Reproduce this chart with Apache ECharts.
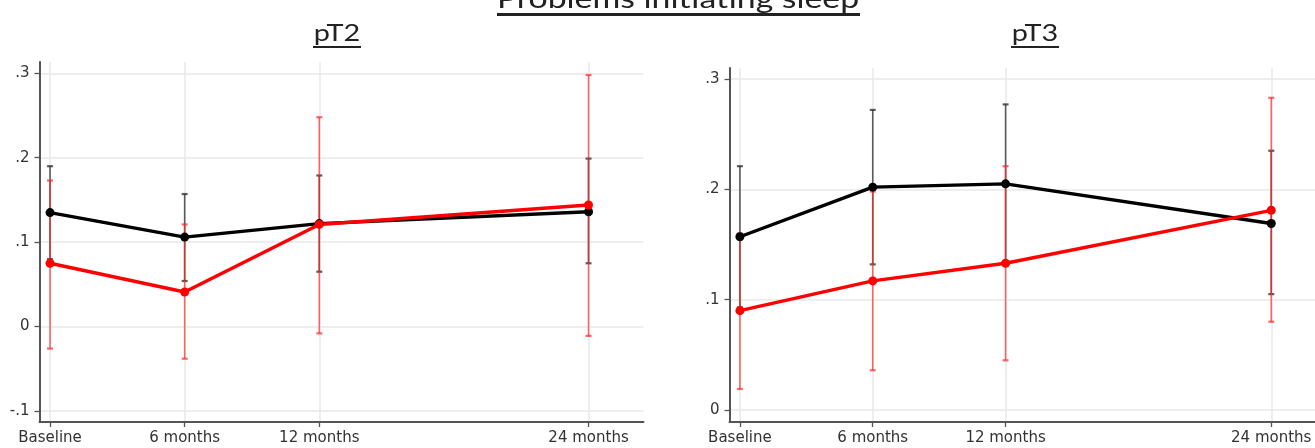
<!DOCTYPE html>
<html><head><meta charset="utf-8">
<script src="https://cdn.jsdelivr.net/npm/echarts@6/dist/echarts.min.js"></script>
<style>html,body{margin:0;padding:0;background:#fff}#c{width:1315px;height:448px}</style>
</head><body><div id="c"></div>
<script>
// ---- data ----
const mainTitle = 'Problems initiating sleep';
const panelTitles = ['pT2', 'pT3'];
const timepoints = [0, 6, 12, 24];
const timeLabels = ['Baseline', '6 months', '12 months', '24 months'];
const yTicksT2 = [-0.1, 0, 0.1, 0.2, 0.3];
const yTicksT3 = [0, 0.1, 0.2, 0.3];
const yTickText = ['-.1', '0', '.1', '.2', '.3'];
const yTickVals = [-0.1, 0, 0.1, 0.2, 0.3];

const pT2_black_mean = [0.135, 0.106, 0.122, 0.136];
const pT2_black_lo   = [0.080, 0.054, 0.065, 0.075];
const pT2_black_hi   = [0.190, 0.157, 0.179, 0.199];
const pT2_red_mean   = [0.075, 0.041, 0.121, 0.144];
const pT2_red_lo     = [-0.026, -0.038, -0.008, -0.011];
const pT2_red_hi     = [0.173, 0.121, 0.248, 0.298];

const pT3_black_mean = [0.157, 0.202, 0.205, 0.169];
const pT3_black_lo   = [0.093, 0.132, 0.133, 0.105];
const pT3_black_hi   = [0.221, 0.272, 0.277, 0.235];
const pT3_red_mean   = [0.090, 0.117, 0.133, 0.181];
const pT3_red_lo     = [0.019, 0.036, 0.045, 0.080];
const pT3_red_hi     = [0.160, 0.198, 0.221, 0.283];

// ---- helpers ----
const BLACK = '#000000', RED = '#ff0000';
const BLACK_CI = 'rgba(40,40,40,0.75)', RED_CI = 'rgba(255,40,40,0.7)';
const labelFont = '"DejaVu Sans", sans-serif';

function fmtY(v) {
  for (let i = 0; i < yTickVals.length; i++) if (Math.abs(v - yTickVals[i]) < 1e-9) return yTickText[i];
  return '';
}
function fmtX(v) {
  const i = timepoints.indexOf(v);
  return i >= 0 ? timeLabels[i] : '';
}
function pairs(xs, ys) { return xs.map((x, i) => [x, ys[i]]); }
function ci(xs, lo, hi) { return xs.map((x, i) => [x, lo[i], hi[i]]); }

function errRender(color) {
  return function (params, api) {
    const x = api.value(0), lo = api.value(1), hi = api.value(2);
    const a = api.coord([x, lo]), b = api.coord([x, hi]);
    const w = 3;
    const st = { stroke: color, lineWidth: 1.6 };
    return {
      type: 'group', children: [
        { type: 'line', shape: { x1: a[0], y1: a[1], x2: b[0], y2: b[1] }, style: st },
        { type: 'line', shape: { x1: a[0] - w, y1: a[1], x2: a[0] + w, y2: a[1] }, style: { stroke: color, lineWidth: 2.2 } },
        { type: 'line', shape: { x1: b[0] - w, y1: b[1], x2: b[0] + w, y2: b[1] }, style: { stroke: color, lineWidth: 2.2 } }
      ]
    };
  };
}

function xAxisCfg(gridIndex) {
  return {
    type: 'value', gridIndex, min: -0.47, max: 26.45,
    axisLine: { show: true, onZero: false, lineStyle: { color: '#555', width: 2 } },
    axisTick: { show: true, length: 5, lineStyle: { color: '#555', width: 1.3 }, customValues: timepoints },
    axisLabel: { customValues: timepoints, formatter: fmtX, color: '#333', fontSize: 15, fontFamily: labelFont, margin: 9 },
    splitLine: { show: true, lineStyle: { color: '#e8e8e8', width: 1.5 } }
  };
}
function yAxisCfg(gridIndex, min, max, ticks) {
  return {
    type: 'value', gridIndex, min, max,
    axisLine: { show: true, onZero: false, lineStyle: { color: '#555', width: 2 } },
    axisTick: { show: true, length: 5, lineStyle: { color: '#555', width: 1.3 }, customValues: ticks },
    axisLabel: { customValues: ticks, formatter: fmtY, color: '#333', fontSize: 15, fontFamily: labelFont, margin: 10 },
    splitLine: { show: true, lineStyle: { color: '#e8e8e8', width: 1.5 } }
  };
}
function lineSeries(idx, data, color) {
  return {
    type: 'line', xAxisIndex: idx, yAxisIndex: idx, data, color,
    symbol: 'circle', symbolSize: 9, showSymbol: true,
    lineStyle: { color, width: 3.4 }, itemStyle: { color }, z: 5, animation: false
  };
}
function ciSeries(idx, data, color) {
  return {
    type: 'custom', xAxisIndex: idx, yAxisIndex: idx, data,
    renderItem: errRender(color), encode: { x: 0, y: [1, 2] }, z: 3, animation: false
  };
}

const chart = echarts.init(document.getElementById('c'), null, { renderer: 'canvas' });
chart.setOption({
  backgroundColor: '#ffffff',
  animation: false,
  grid: [
    { left: 39.5, top: 62, width: 604, height: 360, outerBoundsMode: 'none', containLabel: false },
    { left: 729.5, top: 68, width: 596, height: 354, outerBoundsMode: 'none', containLabel: false }
  ],
  xAxis: [xAxisCfg(0), xAxisCfg(1)],
  yAxis: [yAxisCfg(0, -0.113, 0.3134, yTicksT2), yAxisCfg(1, -0.0109, 0.31, yTicksT3)],
  series: [
    ciSeries(0, ci(timepoints, pT2_black_lo, pT2_black_hi), BLACK_CI),
    ciSeries(0, ci(timepoints, pT2_red_lo, pT2_red_hi), RED_CI),
    lineSeries(0, pairs(timepoints, pT2_black_mean), BLACK),
    lineSeries(0, pairs(timepoints, pT2_red_mean), RED),
    ciSeries(1, ci(timepoints, pT3_black_lo, pT3_black_hi), BLACK_CI),
    ciSeries(1, ci(timepoints, pT3_red_lo, pT3_red_hi), RED_CI),
    lineSeries(1, pairs(timepoints, pT3_black_mean), BLACK),
    lineSeries(1, pairs(timepoints, pT3_red_mean), RED)
  ],
  graphic: [
    { type: 'text', x: 678, y: -13, scaleX: 1.3, style: { text: mainTitle, font: '26px Lato, sans-serif', fill: '#222', textAlign: 'center', textVerticalAlign: 'top' } },
    { type: 'line', shape: { x1: 497, y1: 14.5, x2: 860, y2: 14.5 }, style: { stroke: '#222', lineWidth: 3 } },
    { type: 'text', x: 337, y: 21, scaleX: 1.2, style: { text: panelTitles[0], font: '24px Lato, sans-serif', fill: '#222', textAlign: 'center', textVerticalAlign: 'top' } },
    { type: 'line', shape: { x1: 313, y1: 47, x2: 361, y2: 47 }, style: { stroke: '#222', lineWidth: 1.8 } },
    { type: 'text', x: 1035, y: 21, scaleX: 1.2, style: { text: panelTitles[1], font: '24px Lato, sans-serif', fill: '#222', textAlign: 'center', textVerticalAlign: 'top' } },
    { type: 'line', shape: { x1: 1011, y1: 47, x2: 1059, y2: 47 }, style: { stroke: '#222', lineWidth: 1.8 } }
  ]
});
</script></body></html>
